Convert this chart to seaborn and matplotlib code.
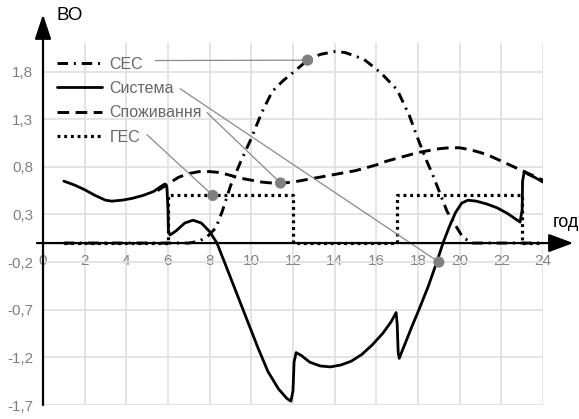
import numpy as np
import pandas as pd
import matplotlib
matplotlib.use("Agg")
import matplotlib.pyplot as plt
import seaborn as sns

# ---------------- data ----------------
ses_x = [1.0, 3.0, 5.0, 7.0, 7.5, 7.9, 8.3, 8.6, 9.0, 9.5, 10.0, 10.5, 11.0, 11.5, 12.0,
         12.7, 13.3, 14.0, 14.5, 15.4, 16.2, 17.0, 17.6, 17.95, 18.4, 18.7, 19.4, 20.15,
         20.6, 22.0, 24.0]
ses_y = [0.0, 0.0, 0.0, 0.0, 0.02, 0.07, 0.16, 0.33, 0.6, 0.86, 1.10, 1.37, 1.59, 1.70, 1.79,
         1.92, 1.98, 2.01, 2.00, 1.93, 1.79, 1.61, 1.33, 1.12, 0.87, 0.72, 0.33, 0.06,
         0.0, 0.0, 0.0]

sys_x = [1.0, 1.5, 2.0, 2.5, 3.0, 3.3, 3.8, 4.3, 4.8, 5.3, 5.7, 5.85, 5.95, 6.0, 6.02, 6.1,
         6.4, 6.8, 7.2, 7.6, 8.0, 8.35, 8.8, 9.3, 9.8, 10.3, 10.8, 11.3, 11.7, 11.9, 12.0,
         12.05, 12.15, 12.4, 12.8, 13.3, 13.8, 14.3, 14.8, 15.3, 15.8, 16.3, 16.7, 16.95,
         17.0, 17.05, 17.1, 17.3, 17.7, 18.1, 18.5, 18.9, 19.2, 19.5, 19.8, 20.1, 20.4,
         20.8, 21.3, 21.8, 22.3, 22.7, 22.9, 23.0, 23.02, 23.1, 23.3, 23.6, 24.0]
sys_y = [0.65, 0.61, 0.56, 0.50, 0.45, 0.44, 0.45, 0.47, 0.50, 0.54, 0.60, 0.62, 0.58, 0.35,
         0.12, 0.085, 0.13, 0.21, 0.24, 0.21, 0.12, 0.0, -0.25, -0.53, -0.81, -1.09, -1.35,
         -1.53, -1.63, -1.66, -1.55, -1.25, -1.15, -1.18, -1.25, -1.29, -1.30, -1.28, -1.24,
         -1.17, -1.07, -0.95, -0.83, -0.73, -0.85, -1.15, -1.21, -1.10, -0.88, -0.67, -0.45,
         -0.20, 0.0, 0.17, 0.32, 0.42, 0.45, 0.44, 0.41, 0.37, 0.31, 0.25, 0.22, 0.35, 0.65,
         0.75, 0.72, 0.69, 0.64]

cons_x = [5.5, 6.0, 6.5, 7.0, 7.5, 8.0, 8.5, 9.0, 9.5, 10.0, 10.5, 11.0, 11.5, 12.0, 12.5,
          13.0, 13.5, 14.0, 14.5, 15.0, 15.5, 16.0, 16.5, 17.0, 17.5, 18.0, 18.5, 19.0,
          19.5, 20.0, 20.5, 21.0, 21.5, 22.0, 22.5, 23.0, 23.5, 24.0]
cons_y = [0.55, 0.62, 0.69, 0.73, 0.75, 0.75, 0.74, 0.71, 0.68, 0.66, 0.64, 0.63, 0.63, 0.64,
          0.66, 0.68, 0.70, 0.72, 0.74, 0.76, 0.79, 0.82, 0.86, 0.89, 0.92, 0.95, 0.97, 0.99,
          1.00, 1.00, 0.98, 0.95, 0.91, 0.86, 0.81, 0.76, 0.71, 0.66]

hes_x = [1, 6, 6, 12, 12, 17, 17, 23, 23, 24]
hes_y = [0, 0, 0.5, 0.5, 0, 0, 0.5, 0.5, 0, 0]

series_names = ["СЕС", "Система", "Споживання", "ГЕС"]

# annotation leader lines: start (near legend text) -> marker point on curve
ann_start_x = [5.38, 6.58, 7.87, 4.99]
ann_start_y = [1.916, 1.62, 1.37, 1.137]
ann_pt_x = [12.7, 19.0, 11.4, 8.15]
ann_pt_y = [1.92, -0.20, 0.63, 0.50]

xticks = list(range(0, 25, 2))
xtick_labels = [str(t) for t in xticks]
yticks = [-1.7, -1.2, -0.7, -0.2, 0.3, 0.8, 1.3, 1.8]
ytick_labels = ["-1,7", "-1,2", "-0,7", "-0,2", "0,3", "0,8", "1,3", "1,8"]

# ---------------- style ----------------
sns.set_style("white")
plt.rcParams["font.family"] = ["Liberation Sans", "DejaVu Sans"]

W, H = 579, 419
fig = plt.figure(figsize=(W / 100, H / 100), dpi=100)
ax = fig.add_axes([43 / W, 14 / H, 500 / W, 362 / H])

ax.set_xlim(0, 24)
ax.set_ylim(-1.7, 2.1)

styles = {
    "СЕС": dict(linestyle=(0, (3.6, 2.0, 0.7, 2.0)), linewidth=2.1),
    "Система": dict(linestyle="-", linewidth=2.0),
    "Споживання": dict(linestyle=(0, (4.0, 2.2)), linewidth=2.1),
    "ГЕС": dict(linestyle=(0, (0.9, 1.2)), linewidth=2.3),
}
data = {
    "СЕС": (ses_x, ses_y),
    "Система": (sys_x, sys_y),
    "Споживання": (cons_x, cons_y),
    "ГЕС": (hes_x, hes_y),
}
for name in series_names:
    xs, ys = data[name]
    df = pd.DataFrame({"x": xs, "y": ys})
    sns.lineplot(data=df, x="x", y="y", ax=ax, sort=False, estimator=None,
                 color="black", label=name, **styles[name])

# leader lines + gray dots
for sx, sy, px, py in zip(ann_start_x, ann_start_y, ann_pt_x, ann_pt_y):
    ax.annotate("", xy=(px, py), xytext=(sx, sy),
                arrowprops=dict(arrowstyle="-", color="#8a8a8a", lw=0.9,
                                shrinkA=0, shrinkB=0))
sns.scatterplot(x=ann_pt_x, y=ann_pt_y, ax=ax, color="#808080", s=65,
                edgecolor="none", zorder=5)

# grid / ticks
ax.set_xticks(xticks, labels=xtick_labels)
ax.set_yticks(yticks, labels=ytick_labels)
ax.grid(True, color="#e2e2e2", linewidth=1.3)
ax.set_axisbelow(True)
for s in ax.spines.values():
    s.set_visible(False)
ax.spines["bottom"].set_position(("data", 0))
ax.tick_params(axis="both", length=0, labelsize=11, labelcolor="#808080")
ax.tick_params(axis="x", pad=8)
ax.tick_params(axis="y", pad=7)
ax.set_xlabel("")
ax.set_ylabel("")

# axis arrows
ax.annotate("", xy=(25.45, 0), xytext=(-0.29, 0), annotation_clip=False,
            arrowprops=dict(arrowstyle="-|>,head_length=0.75,head_width=0.28",
                            mutation_scale=20, color="black", lw=1.6,
                            shrinkA=0, shrinkB=0))
ax.annotate("", xy=(0, 2.4), xytext=(0, -1.7), annotation_clip=False,
            arrowprops=dict(arrowstyle="-|>,head_length=0.75,head_width=0.25",
                            mutation_scale=20, color="black", lw=1.6,
                            shrinkA=0, shrinkB=0))

fig.text(56 / W, 1 - 16 / H, "ВО", fontsize=13.5, color="black", ha="left", va="center")
fig.text(553 / W, 1 - 222 / H, "год", fontsize=13, color="black", ha="left", va="center")

leg = ax.legend(loc="upper left", bbox_to_anchor=(0.028, 0.962), frameon=False,
                fontsize=11.5, labelcolor="#666666", handlelength=2.8,
                handletextpad=0.5, labelspacing=0.58, borderpad=0,
                borderaxespad=0)

fig.savefig("out.png", dpi=100)
